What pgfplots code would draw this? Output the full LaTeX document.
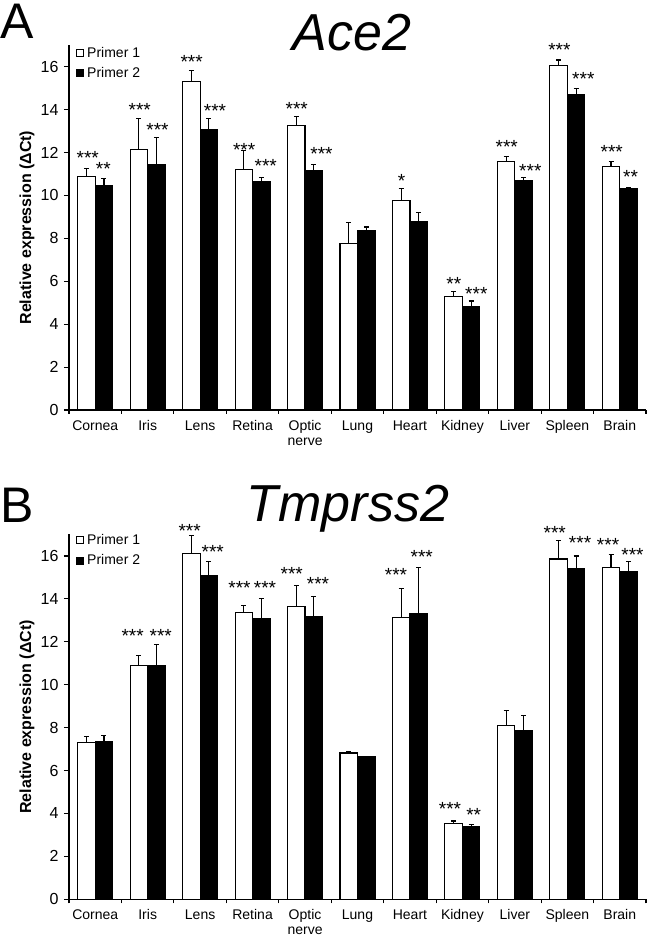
\documentclass[border=0pt]{standalone}
\usepackage{pgfplots}
\pgfplotsset{compat=1.18}
\usepackage{pgfplotstable}
\usepackage{fontspec}
\setmainfont{Liberation Sans}

% x, primer1 mean/err, primer2 mean/err, star positions (x, centre height) and stars
\pgfplotstableread{
x m1 e1 m2 e2 sx1 t1 s1 sx2 t2 s2
0 10.90 0.36 10.45 0.35 -0.142 11.96 *** 0.154 11.42 **
1 12.13 1.44 11.43 1.27 0.848 14.20 *** 1.187 13.28 ***
2 15.31 0.50 13.05 0.54 1.839 16.42 *** 2.284 14.13 ***
3 11.21 0.87 10.64 0.20 2.840 12.32 *** 3.250 11.60 ***
4 13.27 0.40 11.14 0.31 3.841 14.25 *** 4.314 12.15 ***
5 7.77 0.96 8.36 0.17 4.833 9.00 {} 5.167 9.00 {}
6 9.75 0.56 8.78 0.41 5.842 10.90 * 6.167 9.80 {}
7 5.28 0.25 4.81 0.27 6.835 6.06 ** 7.265 5.62 ***
8 11.57 0.25 10.69 0.15 7.845 12.47 *** 8.295 11.37 ***
9 16.04 0.27 14.68 0.32 8.848 16.98 *** 9.305 15.64 ***
10 11.36 0.23 10.33 0.05 9.847 12.24 *** 10.205 11.08 **
}\aceA

\pgfplotstableread{
x m1 e1 m2 e2 sx1 t1 s1 sx2 t2 s2
0 7.32 0.28 7.35 0.28 -0.167 8.00 {} 0.167 8.00 {}
1 10.91 0.47 10.89 1.00 0.714 12.48 *** 1.250 12.48 ***
2 16.10 0.85 15.10 0.66 1.800 17.37 *** 2.240 16.41 ***
3 13.36 0.33 13.08 0.95 2.750 14.70 *** 3.236 14.70 ***
4 13.64 0.97 13.19 0.94 3.746 15.38 *** 4.247 14.92 ***
5 6.82 0.06 6.65 0.02 4.833 7.50 {} 5.167 7.50 {}
6 13.15 1.33 13.33 2.13 5.735 15.32 *** 6.224 16.16 ***
7 3.54 0.11 3.40 0.08 6.764 4.40 *** 7.216 4.16 **
8 8.11 0.68 7.86 0.70 7.833 9.00 {} 8.167 9.00 {}
9 15.86 0.84 15.41 0.59 8.760 17.28 *** 9.243 16.80 ***
10 15.48 0.60 15.27 0.47 9.777 16.70 *** 10.243 16.25 ***
}\tmpB

\pgfplotsset{
 panel/.style={
  scale only axis, width=577pt, height=364.8pt,
  xmin=-0.5, xmax=10.5, ymin=0, ymax=17,
  axis x line*=bottom, axis y line*=left,
  axis line style={line width=1.1pt, black},
  xtick={0,...,10},
  xticklabels={Cornea,Iris,Lens,Retina,{Optic\\nerve},Lung,Heart,Kidney,Liver,Spleen,Brain},
  minor xtick={-0.5,0.5,...,10.5},
  ytick={0,2,...,16},
  tick align=outside,
  major x tick style={draw=none},
  major tick length=5pt, minor tick length=4pt,
  tick style={line width=1.1pt, black},
  xticklabel style={align=center, font=\fontsize{14}{15}\selectfont, yshift=-2pt},
  yticklabel style={font=\fontsize{16}{18}\selectfont, xshift=-2pt},
  /pgf/number format/assume math mode=true,
  ylabel={Relative expression (ΔCt)},
  ylabel style={at={(axis description cs:-0.0728,0.5)}, anchor=center, font=\bfseries\fontsize{16}{18}\selectfont},
  legend image code/.code={\draw[##1, line width=1pt] (0pt,-3.5pt) rectangle (7pt,3.5pt);},
  legend cell align=left,
  legend style={at={(axis description cs:0,1)}, anchor=north west, xshift=7pt, draw=none, fill=none, inner sep=0pt, row sep=6pt, nodes={inner xsep=3pt, inner ysep=1.5pt}, font=\fontsize{14}{16}\selectfont},
  clip=false,
 },
 wbar/.style={ybar, bar width=17.5pt, bar shift=-8.75pt, fill=white, draw=black, line width=1.1pt},
 bbar/.style={ybar, bar width=17.5pt, bar shift=8.75pt, fill=black, draw=black, line width=1.1pt},
 ebar/.style={sharp plot, draw=none, mark=none, forget plot,
   error bars/.cd, y dir=plus, y explicit, error bar style={draw=black, line width=1.1pt}, error mark options={rotate=90, mark size=2.5pt, line width=1.1pt, draw=black}},
 stars/.style={sharp plot, draw=none, mark=none, forget plot, nodes near coords, point meta=explicit symbolic,
   every node near coord/.append style={anchor=base, yshift=-11pt, inner sep=0pt, font=\fontsize{19}{20}\selectfont, text=black}},
}

\begin{document}
\begin{tikzpicture}
\useasboundingbox (0pt,0pt) rectangle (647pt,938pt);
\node[anchor=base west, inner sep=0pt, font=\fontsize{50}{60}\selectfont] at (0pt,899pt) {A};
\node[anchor=base west, inner sep=0pt, font=\fontsize{50}{60}\selectfont] at (0pt,415pt) {B};

\begin{axis}[panel, at={(69pt,528pt)}, anchor=south west,
  title={Ace2}, title style={at={(axis description cs:0.4901,1)}, anchor=base, yshift=-11pt, inner sep=0pt, font=\itshape\fontsize{52}{60}\selectfont},
  legend style={yshift=0pt}]
\addplot[wbar] table[x=x, y=m1] {\aceA};
\addlegendentry{Primer 1}
\addplot[bbar] table[x=x, y=m2] {\aceA};
\addlegendentry{Primer 2}
\addplot[ebar] table[x expr=\thisrow{x}-0.1668, y=m1, y error=e1] {\aceA};
\addplot[ebar] table[x expr=\thisrow{x}+0.1668, y=m2, y error=e2] {\aceA};
\addplot[stars] table[x=sx1, y=t1, meta=s1] {\aceA};
\addplot[stars] table[x=sx2, y=t2, meta=s2] {\aceA};
\end{axis}

\begin{axis}[panel, at={(69pt,38.7pt)}, anchor=south west,
  title={Tmprss2}, title style={at={(axis description cs:0.4835,1)}, anchor=base, yshift=7pt, inner sep=0pt, font=\itshape\fontsize{52}{60}\selectfont},
  legend style={yshift=2pt}]
\addplot[wbar] table[x=x, y=m1] {\tmpB};
\addlegendentry{Primer 1}
\addplot[bbar] table[x=x, y=m2] {\tmpB};
\addlegendentry{Primer 2}
\addplot[ebar] table[x expr=\thisrow{x}-0.1668, y=m1, y error=e1] {\tmpB};
\addplot[ebar] table[x expr=\thisrow{x}+0.1668, y=m2, y error=e2] {\tmpB};
\addplot[stars] table[x=sx1, y=t1, meta=s1] {\tmpB};
\addplot[stars] table[x=sx2, y=t2, meta=s2] {\tmpB};
\end{axis}
\end{tikzpicture}
\end{document}
